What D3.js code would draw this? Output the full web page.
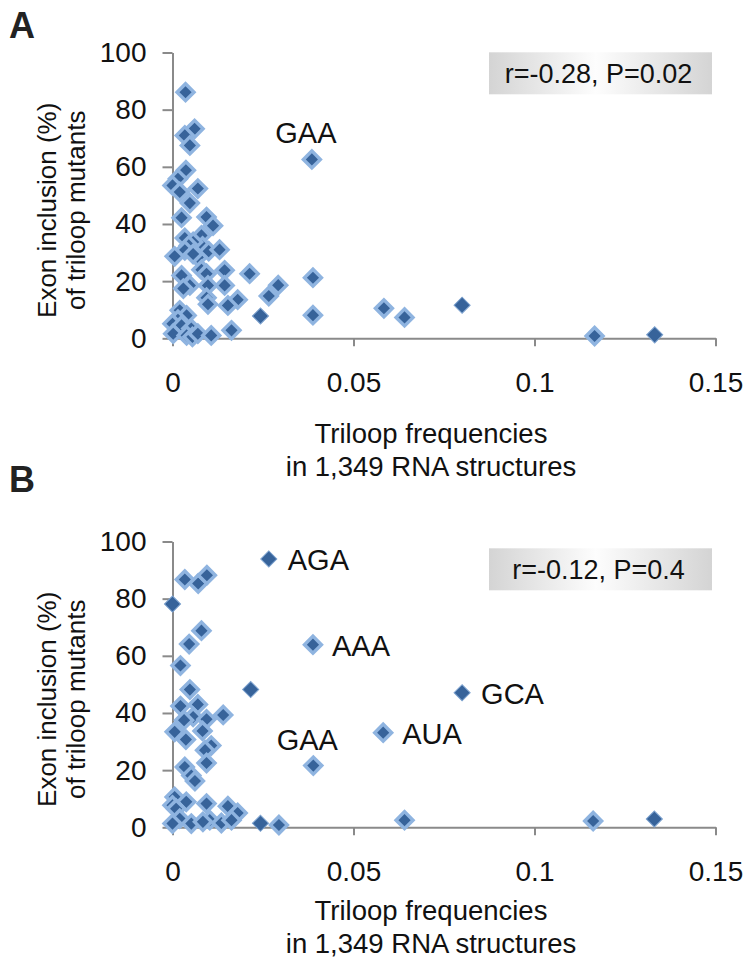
<!DOCTYPE html>
<head>
  <meta charset="utf-8">
  <script src="https://d3js.org/d3.v7.min.js"></script>
  <style>
    body { margin: 0; background: #fff; }
    text { font-family: "Liberation Sans", Arial, sans-serif; fill: #111; }
    .axis path, .axis line { stroke: #8a8a8a; stroke-width: 2; fill: none; }
    .axis text { font-size: 28px; fill: #111; }
  </style>
</head>
<body>
  <div id="graph"></div>
  <script>
    // tick values
    var xTicks = [0, 0.05, 0.1, 0.15];
    var yTicks = [0, 20, 40, 60, 80, 100];

    // panel A: triloop frequency vs exon inclusion (%)
    var pointsA = [
      [0.0036, 86.1], [0.0061, 73.3], [0.0034, 71.0], [0.0048, 67.5], [0.0037, 58.8],
      [0.0015, 55.8], [0.0000, 53.5], [0.0020, 51.2], [0.0070, 52.4], [0.0048, 47.3],
      [0.0025, 42.2], [0.0094, 42.4], [0.0112, 39.4], [0.0034, 35.1], [0.0080, 36.0],
      [0.0083, 32.2], [0.0057, 33.7], [0.0045, 32.5], [0.0034, 30.8], [0.0006, 28.7],
      [0.0070, 28.4], [0.0057, 29.5], [0.0100, 30.5], [0.0130, 31.0], [0.0025, 22.0],
      [0.0080, 24.0], [0.0094, 22.6], [0.0144, 23.8], [0.0213, 22.6], [0.0048, 18.5],
      [0.0098, 18.5], [0.0144, 18.5], [0.0030, 17.4], [0.0094, 14.2], [0.0098, 11.9],
      [0.0180, 13.5], [0.0153, 11.5], [0.0266, 14.8], [0.0292, 18.6], [0.0388, 21.2],
      [0.0388, 8.1], [0.0385, 62.6], [0.0584, 10.5], [0.0641, 7.3], [0.1166, 0.8],
      [0.0020, 9.8], [0.0039, 8.0], [0.0015, 6.5], [0.0000, 5.1], [0.0025, 4.5],
      [0.0052, 3.4], [0.0002, 1.6], [0.0039, 1.0], [0.0055, 0.5], [0.0070, 1.6],
      [0.0107, 1.0], [0.0163, 2.8]
    ];
    var plainA = [[0.0243, 7.8], [0.0800, 11.6], [0.1332, 1.2]];
    var labelsA = [["GAA", 0.0385, 62.6]];
    var statsA = "r=-0.28, P=0.02";

    // panel B
    var pointsB = [
      [0.0034, 86.7], [0.0071, 85.3], [0.0095, 88.2], [0.0080, 68.8], [0.0046, 64.1],
      [0.0388, 63.9], [0.0022, 56.6], [0.0048, 48.2], [0.0022, 42.4], [0.0070, 43.0],
      [0.0057, 38.6], [0.0094, 37.8], [0.0140, 39.3], [0.0032, 37.5], [0.0006, 33.4],
      [0.0083, 33.7], [0.0037, 30.7], [0.0107, 28.6], [0.0090, 27.0], [0.0582, 33.1],
      [0.0094, 22.5], [0.0034, 21.1], [0.0052, 18.1], [0.0062, 16.2], [0.0389, 21.6],
      [0.0006, 10.6], [0.0038, 8.9], [0.0000, 7.7], [0.0010, 6.5], [0.0094, 8.3],
      [0.0153, 7.4], [0.0180, 5.0], [0.0020, 3.0], [0.0052, 1.3], [0.0000, 1.3],
      [0.0103, 2.5], [0.0135, 1.5], [0.0163, 2.5], [0.0084, 1.9], [0.0294, 0.8],
      [0.0641, 2.5], [0.1162, 2.2]
    ];
    var plainB = [[0.0266, 93.9], [0.0000, 78.1], [0.0216, 48.2], [0.0800, 47.1],
      [0.0243, 1.4], [0.1331, 2.9]];
    var labelsB = [["AGA", 0.0266, 93.9], ["AAA", 0.0388, 63.9], ["GCA", 0.0800, 47.1],
      ["AUA", 0.0582, 33.1], ["GAA", 0.0389, 21.6]];
    var statsB = "r=-0.12, P=0.4";

    var width = 749;
    var height = 960;
    var svg = d3.select("#graph").append("svg")
      .attr("width", width)
      .attr("height", height);

    var defs = svg.append("defs");
    var grad = defs.append("linearGradient").attr("id", "boxgrad");
    grad.append("stop").attr("offset", "0%").attr("stop-color", "#d4d4d4");
    grad.append("stop").attr("offset", "48%").attr("stop-color", "#fdfdfd");
    grad.append("stop").attr("offset", "100%").attr("stop-color", "#d4d4d4");

    var dark = "#37639a";
    var halo = "#8fb4e0";

    function panel(opt) {
      var g = svg.append("g");
      var x = d3.scaleLinear().domain([0, 0.15]).range([172.5, 715.5]);
      var y = d3.scaleLinear().domain([0, 100]).range([opt.bottom, opt.bottom - 285.8]);

      g.append("g")
        .attr("class", "axis")
        .attr("transform", "translate(0," + opt.bottom + ")")
        .call(d3.axisBottom(x).tickValues(xTicks).tickFormat(d => d)
          .tickSize(8).tickSizeOuter(0).tickPadding(26));

      g.append("g")
        .attr("class", "axis")
        .attr("transform", "translate(172.5,0)")
        .call(d3.axisLeft(y).tickValues(yTicks).tickFormat(d => d)
          .tickSize(10).tickSizeOuter(0).tickPadding(16));

      // stats box
      var bx = 489, by = opt.bottom - 286, bw = 223, bh = 42;
      g.append("rect")
        .attr("x", bx).attr("y", by + opt.boxDy).attr("width", bw).attr("height", bh)
        .attr("fill", "url(#boxgrad)");
      g.append("text")
        .attr("x", bx + bw / 2 - 2).attr("y", by + opt.boxDy + 31)
        .attr("text-anchor", "middle")
        .style("font-size", "27px")
        .text(opt.stats);

      var sym = d3.symbol().type(d3.symbolSquare);

      // markers with halo
      g.append("g").selectAll("path")
        .data(opt.points).enter()
        .append("path")
        .attr("d", sym.size(144)())
        .attr("transform", d => "translate(" + x(d[0]) + "," + y(d[1]) + ") rotate(45)")
        .attr("fill", dark)
        .attr("stroke", halo)
        .attr("stroke-width", 3.4);

      // plain markers
      g.append("g").selectAll("path")
        .data(opt.plain).enter()
        .append("path")
        .attr("d", sym.size(130)())
        .attr("transform", d => "translate(" + x(d[0]) + "," + y(d[1]) + ") rotate(45)")
        .attr("fill", dark)
        .attr("stroke", "#7da2cf")
        .attr("stroke-width", 1);

      // triloop labels: GAA sits above its point, others to the right
      g.append("g").selectAll("text")
        .data(opt.labels).enter()
        .append("text")
        .attr("x", d => d[0] == "GAA" ? x(d[1]) - 6 : x(d[1]) + 19)
        .attr("y", d => d[0] == "GAA" ? y(d[2]) - 16 : y(d[2]) + 11)
        .attr("text-anchor", d => d[0] == "GAA" ? "middle" : "start")
        .style("font-size", "29px")
        .text(d => d[0]);

      // y title
      var yt = g.append("text")
        .attr("transform", "translate(0," + (opt.bottom - 143 + 15) + ") rotate(-90)")
        .attr("text-anchor", "middle")
        .style("font-size", "26px");
      yt.append("tspan").attr("x", 0).attr("y", 56).text("Exon inclusion (%)");
      yt.append("tspan").attr("x", 0).attr("y", 85).text("of triloop mutants");

      // x title
      var xt = g.append("text")
        .attr("text-anchor", "middle")
        .style("font-size", "27.5px");
      xt.append("tspan").attr("x", 431).attr("y", opt.bottom + opt.titleDy).text("Triloop frequencies");
      xt.append("tspan").attr("x", 431).attr("y", opt.bottom + opt.titleDy + 33).text("in 1,349 RNA structures");

      // panel letter
      g.append("text")
        .attr("x", 9).attr("y", opt.letterY)
        .style("font-size", "36px")
        .style("font-weight", "bold")
        .style("fill", "#222")
        .text(opt.letter);
    }

    panel({ letter: "A", letterY: 38, bottom: 338.3, points: pointsA, plain: plainA,
      labels: labelsA, stats: statsA, titleDy: 105, boxDy: 0 });
    panel({ letter: "B", letterY: 492, bottom: 827.3, points: pointsB, plain: plainB,
      labels: labelsB, stats: statsB, titleDy: 93, boxDy: 7 });
  </script>
</body>
